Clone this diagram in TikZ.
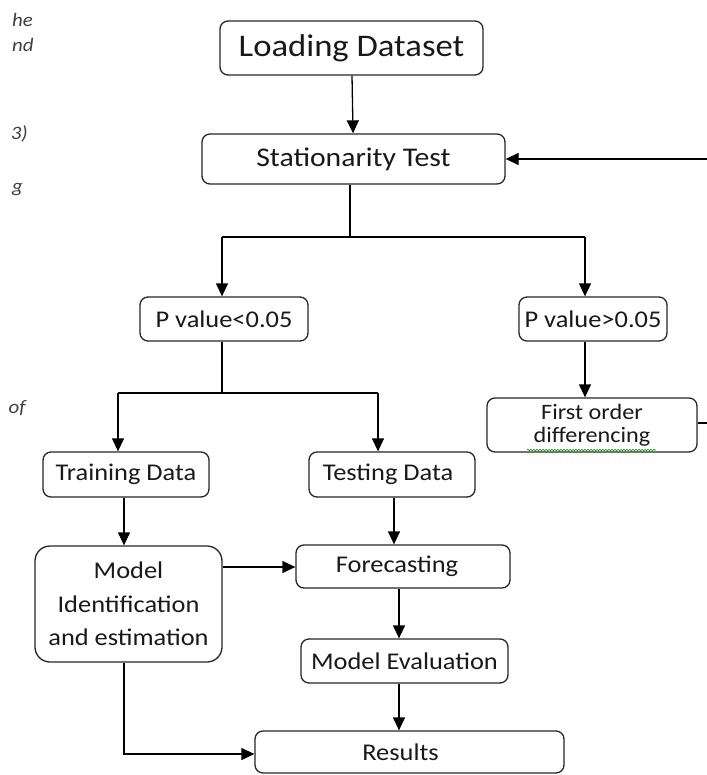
\documentclass[tikz,border=0pt]{standalone}
\usepackage{fontspec}
\setmainfont{Carlito}[FakeStretch=1.1]
\usetikzlibrary{arrows.meta,decorations.pathmorphing}
\begin{document}
\begin{tikzpicture}[x=1pt,y=-1pt,
  box/.style={draw=black!85,line width=1.3pt,rounded corners=8pt,align=center,inner sep=2pt,font=\fontsize{24}{27}\selectfont,text=black!90},
  arr/.style={line width=1.3pt,-{Triangle[length=13pt,width=12pt]}},
  ln/.style={line width=1.3pt},
  frag/.style={font=\fontsize{19}{21}\selectfont\itshape,text=black!75,anchor=west,inner sep=0pt}]
\useasboundingbox (0,0) rectangle (706,775);
% left margin fragments
\node[frag] (f1) at (12,20) {he};
\node[frag] (f2) at (12,45) {nd};
\node[frag,anchor=east] (f3) at (28,134) {3)};
\node[frag] (f4) at (12,190) {g};
\node[frag,anchor=east] (f5) at (26,408) {of};
% nodes
\node[box,minimum width=263pt,minimum height=54pt,font=\fontsize{31.5}{34}\selectfont] (ld) at (351.5,48) {Loading Dataset};
\node[box,minimum width=303pt,minimum height=50pt,font=\fontsize{27}{30}\selectfont] (st) at (353.5,159) {Stationarity Test};
\node[box,minimum width=168pt,minimum height=44pt] (pl) at (224,319) {P value<0.05};
\node[box,minimum width=148pt,minimum height=44pt] (pg) at (593,319) {P value>0.05};
\node[box,minimum width=210pt,minimum height=54pt,inner sep=1pt,font=\fontsize{22}{23}\selectfont] (fd) at (592,425) {First order\\differencing};
\node[box,minimum width=166pt,minimum height=45pt] (tr) at (126,474.5) {\raisebox{-4pt}{Training Data}};
\node[box,minimum width=166pt,minimum height=45pt] (te) at (392,474.5) {\raisebox{-1pt}{Testing Data\hspace{8pt}}};
\node[box,rounded corners=15pt,minimum width=187pt,minimum height=116pt,font=\fontsize{24}{33.5}\selectfont] (md) at (128.5,604) {Model\\Identification\\and estimation};
\node[box,minimum width=214pt,minimum height=43pt] (fc) at (403,566.5) {Forecasting\hspace{12pt}};
\node[box,minimum width=207pt,minimum height=44pt] (me) at (404.5,661) {Model Evaluation};
\node[box,minimum width=309pt,minimum height=42pt] (rs) at (409.5,752) {Results\hspace{18pt}};
% spell-check underline
\coordinate (u1) at (527,450);
\coordinate (u2) at (656,450);
\draw[green!60!black,line width=0.6pt,decorate,decoration={snake,amplitude=0.8pt,segment length=3pt}] (u1) -- (u2);
% split coordinates
\coordinate (s1) at (350,237);
\coordinate (a1) at (222,237);
\coordinate (a2) at (585,237);
\coordinate (s2) at (222,393);
\coordinate (b1) at (118,393);
\coordinate (b2) at (378,393);
\coordinate (lp) at (720,423);
\coordinate (mc) at (124,754);
% connectors
\draw[arr] (ld) -- (st);
\draw[ln] (st.south -| s1) -- (s1);
\draw[ln] (a1) -- (a2);
\draw[arr] (a1) -- (a1 |- pl.north);
\draw[arr] (a2) -- (a2 |- pg.north);
\draw[arr] (a2 |- pg.south) -- (a2 |- fd.north);
\draw[arr] (lp |- fd.east) -- (lp) |- (st.east);
\draw[ln] (fd.east |- lp) -- (lp);
\draw[ln] (s2 |- pl.south) -- (s2);
\draw[ln] (b1) -- (b2);
\draw[arr] (b1) -- (b1 |- tr.north);
\draw[arr] (b2) -- (b2 |- te.north);
\draw[arr] (tr.south -| mc) -- (md.north -| mc);
\draw[arr] (te.south -| 394,0) -- (fc.north -| 394,0);
\draw[arr] (md.east |- 0,567) -- (fc.west |- 0,567);
\draw[arr] (fc.south -| 399,0) -- (me.north -| 399,0);
\draw[arr] (me.south -| 399,0) -- (rs.north -| 399,0);
\draw[arr] (md.south -| mc) -- (mc) -- (rs.west |- mc);
\end{tikzpicture}
\end{document}
